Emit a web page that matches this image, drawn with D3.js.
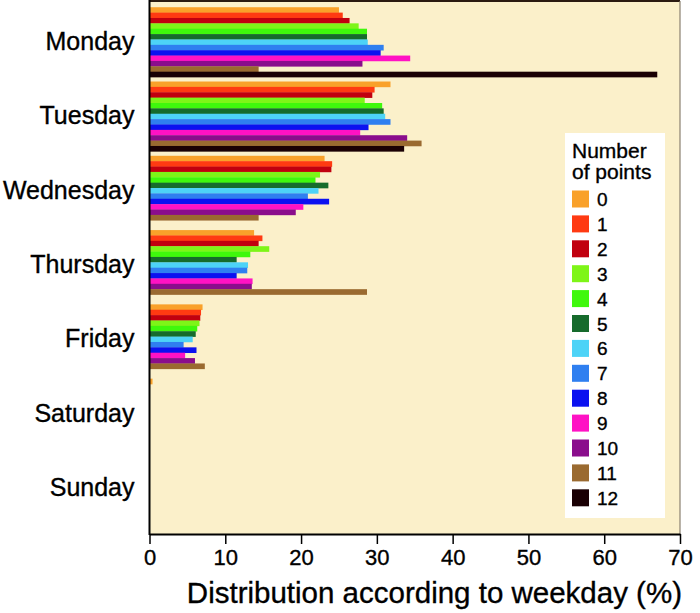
<!DOCTYPE html>
<html>
<head>
<meta charset="utf-8">
<script src="https://cdn.jsdelivr.net/npm/d3@7"></script>
<style>
  body { margin: 0; background: #fff; }
  text { font-family: "Liberation Sans", Arial, sans-serif; fill: #000; stroke: #000; stroke-width: 0.35px; }
</style>
</head>
<body>
<div id="chart"></div>
<script>
var days = ["Monday", "Tuesday", "Wednesday", "Thursday", "Friday", "Saturday", "Sunday"];
var points = ["0", "1", "2", "3", "4", "5", "6", "7", "8", "9", "10", "11", "12"];
var colors = ["#f9a12a", "#ff3a12", "#c1000f", "#7ef518", "#3ff80c", "#166b2c", "#4dd3f7",
              "#2f7ff0", "#0b11f0", "#ff12c4", "#8a0d8c", "#9a6a30", "#1a0004"];
var xTicks = [0, 10, 20, 30, 40, 50, 60, 70];

// one array per weekday, values for 0..12 points (%)
var monday    = [25.0, 25.5, 26.4, 27.6, 28.7, 28.7, 28.8, 30.9, 30.5, 34.4, 28.1, 14.4, 67.0];
var tuesday   = [31.8, 29.7, 29.4, 28.4, 30.7, 30.9, 31.1, 31.8, 28.9, 27.8, 34.0, 35.9, 33.6];
var wednesday = [23.1, 24.1, 24.0, 22.5, 21.9, 23.6, 22.3, 20.9, 23.7, 20.3, 19.3, 14.4, 0];
var thursday  = [13.8, 14.9, 14.4, 15.8, 13.3, 11.5, 13.0, 12.9, 11.5, 13.6, 13.5, 28.7, 0];
var friday    = [7.0, 6.8, 6.7, 6.6, 6.3, 6.1, 5.7, 4.5, 6.2, 4.7, 6.0, 7.3, 0];
var saturday  = [0.4, 0, 0, 0, 0, 0, 0, 0, 0, 0, 0, 0, 0];
var sunday    = [0, 0, 0, 0, 0, 0, 0, 0, 0, 0, 0, 0, 0];

function init(){
    var w = 700;
    var h = 613;
    var allValues = [monday, tuesday, wednesday, thursday, friday, saturday, sunday];

    var svg = d3.select("#chart")
        .append("svg")
        .attr("width", w)
        .attr("height", h);

    var x = d3.scaleLinear().domain([0, 70]).range([149.5, 680]);
    var y = d3.scaleBand().domain(days).range([5, 525])
        .paddingInner(0.06).paddingOuter(0.03);
    var yInner = d3.scaleBand().domain(points).range([0, y.bandwidth()]);
    var color = d3.scaleOrdinal().domain(points).range(colors);

    // plot background
    svg.append("rect")
        .attr("x", x(0)).attr("y", 1)
        .attr("width", x(70) - x(0)).attr("height", 533)
        .attr("fill", "#fbf0ca");

    // bars
    var groups = svg.selectAll("g.day")
        .data(days)
        .enter()
        .append("g")
        .attr("class", "day")
        .attr("transform", function(d) { return "translate(0," + y(d) + ")"; });

    groups.selectAll("rect")
        .data(function(d, i) {
            return allValues[i].map(function(v, j) { return {p: points[j], v: v}; });
        })
        .enter()
        .append("rect")
        .attr("x", x(0))
        .attr("y", function(d) { return yInner(d.p); })
        .attr("width", function(d) { return x(d.v) - x(0); })
        .attr("height", yInner.bandwidth() + 0.3)
        .attr("fill", function(d) { return color(d.p); });

    // frame lines
    svg.append("line") // top
        .attr("x1", x(0)).attr("x2", x(70)).attr("y1", 1).attr("y2", 1)
        .attr("stroke", "#2a1a10").attr("stroke-width", 2);
    svg.append("line") // right
        .attr("x1", x(70)).attr("x2", x(70)).attr("y1", 1).attr("y2", 534)
        .attr("stroke", "#8a8070").attr("stroke-width", 1.2);
    svg.append("line") // left
        .attr("x1", x(0)).attr("x2", x(0)).attr("y1", 0).attr("y2", 535)
        .attr("stroke", "#000").attr("stroke-width", 2);

    // x axis
    var xAxis = svg.append("g")
        .attr("transform", "translate(0,534)")
        .call(d3.axisBottom(x).tickValues(xTicks).tickSize(10).tickPadding(5).tickSizeOuter(0));
    xAxis.select(".domain").attr("stroke", "#000").attr("stroke-width", 2);
    xAxis.selectAll(".tick line").attr("stroke", "#000").attr("stroke-width", 1.5);
    xAxis.selectAll("text").style("font-size", "22px").attr("fill", "#000");

    // day labels
    var yAxis = svg.append("g")
        .attr("transform", "translate(" + x(0) + ",0)")
        .call(d3.axisLeft(y).tickSize(0).tickPadding(15));
    yAxis.select(".domain").remove();
    yAxis.selectAll("text").style("font-size", "25px").attr("fill", "#000");

    svg.append("text")
        .attr("x", 682).attr("y", 603)
        .attr("text-anchor", "end")
        .style("font-size", "29.5px")
        .text("Distribution according to weekday (%)");

    // legend
    var legend = svg.append("g");
    legend.append("rect")
        .attr("x", 565).attr("y", 133)
        .attr("width", 100).attr("height", 385)
        .attr("fill", "#fff")
        .attr("stroke", "none");
    legend.append("text").attr("x", 572).attr("y", 158)
        .style("font-size", "21px").text("Number");
    legend.append("text").attr("x", 572).attr("y", 179)
        .style("font-size", "21px").text("of points");

    var items = legend.selectAll("g.item")
        .data(points)
        .enter()
        .append("g")
        .attr("class", "item")
        .attr("transform", function(d, i) { return "translate(572," + (190.5 + i * 24.9) + ")"; });
    items.append("rect")
        .attr("width", 17).attr("height", 17)
        .attr("fill", function(d) { return color(d); });
    items.append("text")
        .attr("x", 25).attr("y", 15.5)
        .style("font-size", "19px")
        .text(function(d) { return d; });
}
window.onload = init;
</script>
</body>
</html>
